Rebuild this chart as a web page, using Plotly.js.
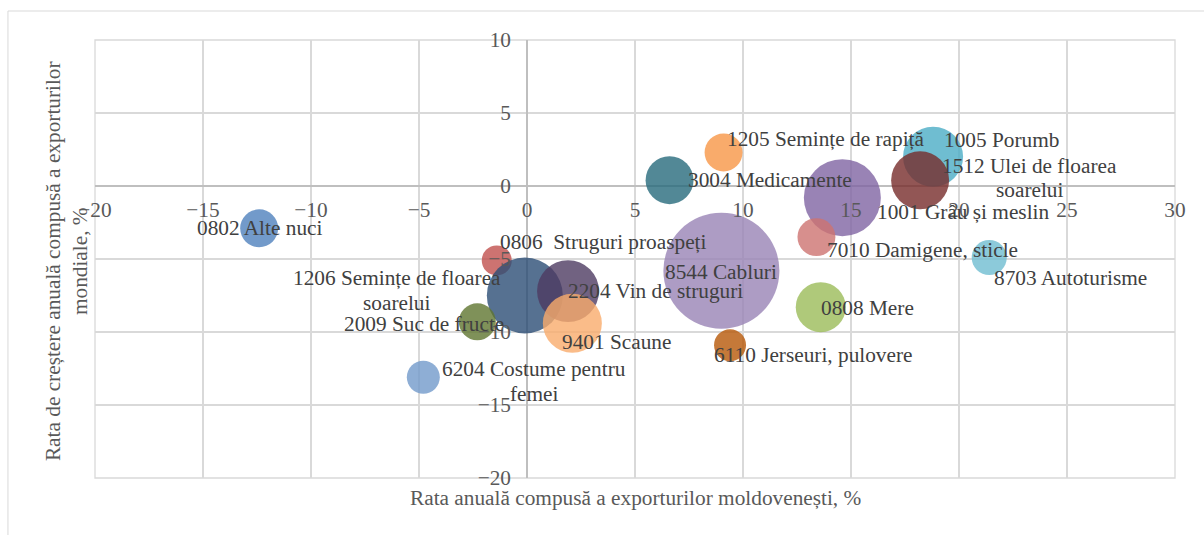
<!DOCTYPE html>
<html>
<head>
<meta charset="utf-8">
<script src="https://cdn.plot.ly/plotly-3.0.1.min.js"></script>
<style>html,body{margin:0;padding:0;background:#fff;}#chart{width:1204px;height:535px;}</style>
</head>
<body>
<div id="chart"></div>
<script>
// ---- data ----
const products = ["0802 Alte nuci","0806  Struguri proaspeți","0808 Mere","1001 Grâu și meslin","1005 Porumb","1205 Semințe de rapiță","1206 Semințe de floarea soarelui","1512 Ulei de floarea soarelui","2009 Suc de fructe","2204 Vin de struguri","3004 Medicamente","6110 Jerseuri, pulovere","6204 Costume pentru femei","7010 Damigene, sticle","8544 Cabluri","8703 Autoturisme","9401 Scaune"];
const labels = ["0802 Alte nuci","0806  Struguri proaspeți","0808 Mere","1001 Grâu și meslin","1005 Porumb","1205 Semințe de rapiță","1206 Semințe de floarea<br>soarelui","1512 Ulei de floarea<br>soarelui","2009 Suc de fructe","2204 Vin de struguri","3004 Medicamente","6110 Jerseuri, pulovere","6204 Costume pentru<br>femei","7010 Damigene, sticle","8544 Cabluri","8703 Autoturisme","9401 Scaune"];
const moldovaGrowth = [-12.4, -1.4, 13.6, 14.6, 18.8, 9.1, -0.1, 18.2, -2.3, 1.9, 6.6, 9.4, -4.8, 13.4, 9.0, 21.4, 2.1];
const worldGrowth   = [-2.9, -5.1, -8.3, -0.8, 2.0, 2.3, -7.5, 0.4, -9.3, -7.2, 0.4, -10.9, -13.1, -3.5, -5.8, -4.9, -9.4];
const exportSize    = [14.4, 9.0, 25.0, 59.3, 36.0, 14.4, 57.8, 33.6, 13.7, 38.4, 23.0, 10.2, 10.9, 14.4, 134.6, 12.3, 34.8];

// ---- styles ----
const colors = ["#4F81BD","#C0504D","#9BBB59","#8064A2","#4BACC6","#F79646","#2C4D75","#772C2A","#5F7530","#4D3B62","#276A7C","#B65708","#729ACA","#CD7371","#9983B5","#6FBDD1","#F9AB6B"];
const labelDx = [0, 107, 47, 121, 68, 102, -128, 109, -53, 87, 100, 83, 111, 106, 0, 81, 44];
const labelDy = [0, -18, 1, 14, -17, -13, -5, -2, 2, 0, 0, 10, 4, 13, 1, 20, 19];
const LINE_GAP = 24.5;

const FONT = "Liberation Serif, Times New Roman, serif";
const FS = 21.3;

const trace = {
  type: "scatter",
  mode: "markers",
  x: moldovaGrowth,
  y: worldGrowth,
  text: products,
  hoverinfo: "text",
  marker: {
    size: exportSize,
    sizemode: "area",
    sizeref: 0.02,
    color: colors,
    opacity: 0.8,
    line: {width: 0}
  },
  showlegend: false
};

const annotations = [];
labels.forEach((t, i) => {
  const lines = t.split("<br>");
  lines.forEach((ln, k) => {
    const off = (k - (lines.length - 1) / 2) * LINE_GAP;
    annotations.push({
      x: moldovaGrowth[i], y: worldGrowth[i], xref: "x", yref: "y",
      text: ln, showarrow: false, xanchor: "center", yanchor: "middle", align: "center",
      xshift: labelDx[i], yshift: -(labelDy[i] + off),
      font: {family: FONT, size: FS, color: "#404040"}
    });
  });
});

annotations.push({
  xref: "paper", yref: "paper", x: 0.5, y: -0.046, xanchor: "center", yanchor: "middle",
  text: "Rata anuală compusă a exporturilor moldovenești, %", showarrow: false,
  font: {family: FONT, size: FS, color: "#595959"}
});
annotations.push({
  xref: "paper", yref: "paper", x: -0.026, y: 0.495, xanchor: "center", yanchor: "middle",
  text: "Rata de creștere anuală compusă a exporturilor<br>mondiale, %", showarrow: false, textangle: -90,
  font: {family: FONT, size: FS, color: "#595959"}
});

const layout = {
  width: 1204, height: 535,
  margin: {l: 95, r: 29, t: 40, b: 57},
  paper_bgcolor: "#ffffff", plot_bgcolor: "#ffffff",
  font: {family: FONT, size: FS, color: "#595959"},
  xaxis: {
    range: [-20, 30], dtick: 5, tick0: 0, showgrid: true, gridcolor: "#d9d9d9", gridwidth: 1.3,
    zeroline: true, zerolinecolor: "#bfbfbf", zerolinewidth: 1.5, showline: false,
    anchor: "free", position: 20/30, ticks: "", ticklabelstandoff: 9,
    tickfont: {family: FONT, size: FS, color: "#595959"}, fixedrange: true
  },
  yaxis: {
    range: [-20, 10], dtick: 5, tick0: 0, showgrid: true, gridcolor: "#d9d9d9", gridwidth: 1.3,
    zeroline: true, zerolinecolor: "#bfbfbf", zerolinewidth: 1.5, showline: false,
    anchor: "free", position: 20/50, ticks: "", ticklabelstandoff: 16,
    tickfont: {family: FONT, size: FS, color: "#595959"}, fixedrange: true
  },
  shapes: [
    {type: "line", xref: "paper", yref: "paper", x0: -0.0806, x1: 1.03, y0: 1.0662, y1: 1.0662, line: {color: "#d9d9d9", width: 1}},
    {type: "line", xref: "paper", yref: "paper", x0: -0.0806, x1: -0.0806, y0: -0.14, y1: 1.0662, line: {color: "#d9d9d9", width: 1}},
    {type: "rect", xref: "paper", yref: "paper", x0: 0, x1: 1, y0: 0, y1: 1, line: {color: "#d9d9d9", width: 1.3}, layer: "below"}
  ],
  annotations: annotations,
  hovermode: "closest"
};

Plotly.newPlot("chart", [trace], layout, {displayModeBar: false, staticPlot: true});
</script>
</body>
</html>
